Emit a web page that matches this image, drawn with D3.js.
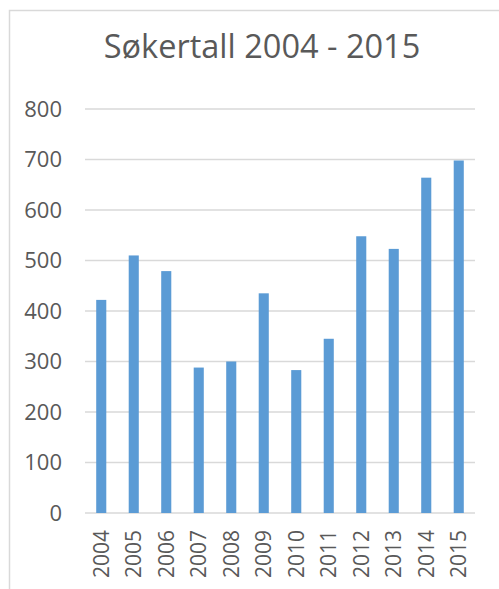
<!DOCTYPE html>
<html>
<head>
<meta charset="utf-8">
<script src="https://cdn.jsdelivr.net/npm/d3@7"></script>
<style>
  body { margin: 0; background: #fff; }
  text { font-family: "Open Sans", sans-serif; fill: #595959; }
</style>
</head>
<body>
<div id="chart"></div>
<script>
const years = ["2004", "2005", "2006", "2007", "2008", "2009", "2010", "2011", "2012", "2013", "2014", "2015"]
const applicants = [422, 510, 479, 288, 300, 435, 283, 345, 548, 523, 664, 698]
const yTicks = [0, 100, 200, 300, 400, 500, 600, 700, 800]
const title = "Søkertall 2004 - 2015"

const width = 499
const height = 589
const plot = {left: 85, right: 475, top: 109, bottom: 513}

const svg = d3.select("#chart")
  .append("svg")
  .attr("width", width)
  .attr("height", height)

// chart frame (only top and left edges are visible)
svg.append("path")
  .attr("d", `M9.5,${height} V10.5 H${width}`)
  .attr("fill", "none")
  .attr("stroke", "#d9d9d9")
  .attr("stroke-width", 1.5)

svg.append("text")
  .attr("x", 262)
  .attr("y", 58)
  .attr("text-anchor", "middle")
  .style("font-size", "32.5px")
  .text(title)

const x = d3.scaleBand()
  .domain(years)
  .range([plot.left, plot.right])
  .paddingInner(0.69)
  .paddingOuter(0.345)

const y = d3.scaleLinear()
  .domain([0, 800])
  .range([plot.bottom, plot.top])

// gridlines
svg.append("g")
  .selectAll("line")
  .data(yTicks)
  .enter()
  .append("line")
  .attr("x1", plot.left)
  .attr("x2", plot.right)
  .attr("y1", d => y(d))
  .attr("y2", d => y(d))
  .attr("stroke", "#d9d9d9")
  .attr("stroke-width", 1.5)

// y labels
svg.append("g")
  .selectAll("text")
  .data(yTicks)
  .enter()
  .append("text")
  .attr("x", 62)
  .attr("y", d => y(d))
  .attr("dy", "0.35em")
  .attr("text-anchor", "end")
  .style("font-size", "22px")
  .text(d => d)

// bars
svg.append("g")
  .selectAll("rect")
  .data(applicants)
  .enter()
  .append("rect")
  .attr("x", (d, i) => x(years[i]))
  .attr("y", d => y(d))
  .attr("width", x.bandwidth())
  .attr("height", d => y(0) - y(d))
  .attr("fill", "#5b9bd5")

// x labels, rotated
svg.append("g")
  .selectAll("text")
  .data(years)
  .enter()
  .append("text")
  .attr("transform", d => `translate(${x(d) + x.bandwidth() / 2},${plot.bottom + 17}) rotate(-90)`)
  .attr("dy", "0.35em")
  .attr("text-anchor", "end")
  .style("font-size", "21px")
  .text(d => d)
</script>
</body>
</html>
